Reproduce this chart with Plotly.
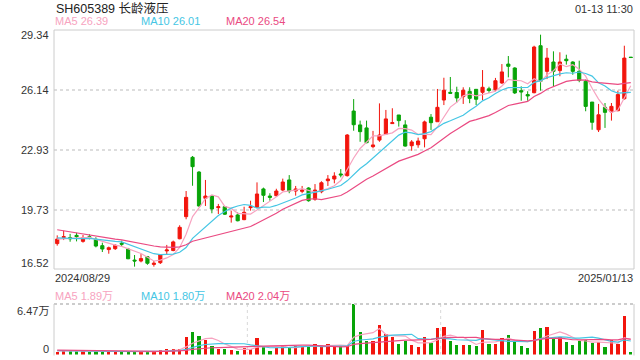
import plotly.graph_objects as go
import pandas as pd

# ---- data ----
opens = [17.93, 18.26, 18.25, 18.37, 18.05, 18.30, 18.16, 17.82, 17.61, 17.66,
         17.95, 17.64, 17.05, 17.00, 17.23, 16.82, 16.91, 17.54, 17.56, 18.19,
         19.37, 22.54, 21.75, 20.35, 20.47, 19.85, 19.90, 19.35, 19.46, 19.21,
         19.85, 19.87, 20.85, 20.47, 20.49, 20.79, 21.33, 20.74, 20.72, 20.90,
         20.30, 20.70, 21.29, 21.38, 21.65, 21.56, 25.01, 24.27, 24.11, 23.11,
         23.46, 23.78, 24.34, 24.80, 24.27, 23.16, 23.21, 23.53, 24.68, 24.44,
         25.60, 26.01, 26.00, 25.78, 26.06, 26.17, 26.01, 26.20, 26.15, 26.51,
         27.52, 27.31, 26.10, 25.89, 25.99, 28.50, 27.13, 27.63, 27.17, 27.78,
         27.63, 27.13, 26.60, 25.49, 24.01, 25.21, 24.96, 25.03, 25.67, 27.89]
highs = [18.37, 18.62, 18.45, 18.51, 18.39, 18.43, 18.27, 17.98, 17.77, 17.89,
         18.09, 17.70, 17.32, 17.37, 17.27, 17.00, 17.37, 17.86, 18.09, 18.91,
         20.74, 22.61, 21.81, 21.33, 20.53, 20.05, 19.94, 19.69, 19.60, 19.90,
         20.22, 21.20, 20.92, 20.62, 20.86, 21.40, 21.59, 21.01, 21.01, 20.94,
         21.11, 21.26, 21.59, 21.74, 21.91, 23.78, 25.65, 24.50, 24.50, 23.95,
         25.42, 25.07, 25.16, 24.80, 24.52, 23.46, 23.59, 24.50, 24.85, 26.19,
         26.79, 26.83, 26.31, 26.28, 26.28, 26.17, 27.20, 26.31, 26.78, 27.52,
         27.95, 27.35, 26.33, 26.07, 28.50, 29.09, 28.38, 28.20, 28.15, 28.02,
         27.67, 27.70, 26.69, 25.49, 25.39, 25.44, 25.44, 26.10, 28.50, 27.89]
lows = [17.82, 18.12, 18.03, 18.05, 17.98, 18.16, 17.73, 17.48, 17.39, 17.59,
        17.77, 17.10, 16.70, 16.93, 16.80, 16.70, 16.84, 17.37, 17.52, 18.16,
        19.23, 21.02, 19.90, 19.94, 19.55, 19.51, 19.46, 19.05, 19.12, 19.18,
        19.69, 19.83, 20.15, 20.22, 20.44, 20.74, 20.62, 20.49, 20.62, 20.17,
        20.22, 20.62, 21.01, 21.15, 21.47, 21.51, 23.96, 23.37, 23.29, 23.02,
        23.37, 23.78, 24.32, 24.18, 23.11, 22.89, 23.05, 23.07, 24.00, 24.44,
        25.33, 25.94, 25.46, 25.39, 25.43, 25.33, 25.60, 25.97, 26.07, 26.46,
        26.81, 25.92, 25.56, 25.56, 25.96, 26.10, 26.72, 26.33, 26.87, 27.49,
        26.95, 26.55, 25.00, 24.01, 23.89, 24.11, 24.50, 25.00, 25.62, 27.87]
closes = [18.17, 18.30, 18.19, 18.30, 18.25, 18.25, 17.80, 17.64, 17.71, 17.84,
          17.90, 17.12, 17.00, 17.13, 16.88, 16.88, 17.34, 17.59, 18.02, 18.80,
          20.40, 22.04, 19.94, 20.47, 19.78, 19.90, 19.50, 19.40, 19.15, 19.60,
          19.90, 20.58, 20.51, 20.40, 20.74, 21.22, 20.74, 20.85, 20.79, 20.22,
          20.79, 21.18, 21.38, 21.54, 21.60, 23.73, 24.28, 23.91, 23.32, 23.20,
          23.73, 24.59, 24.39, 24.50, 23.14, 23.36, 23.41, 24.43, 24.39, 25.21,
          26.12, 25.96, 25.71, 26.12, 25.69, 25.64, 26.28, 26.11, 26.63, 27.10,
          27.40, 25.98, 26.03, 25.82, 28.43, 26.60, 27.84, 27.13, 27.63, 27.70,
          27.13, 26.65, 25.26, 24.41, 24.81, 24.94, 25.26, 25.89, 27.84, 27.87]
volumes = [0.34, 0.40, 0.40, 0.40, 0.40, 0.36, 0.40, 0.36, 0.36, 0.40,
           0.36, 0.40, 0.36, 0.36, 0.36, 0.40, 0.56, 0.69, 0.69, 0.69,
           2.24, 2.93, 2.37, 1.90, 1.08, 0.73, 0.69, 0.56, 0.43, 0.86,
           0.73, 2.11, 0.99, 0.47, 0.86, 1.12, 0.91, 1.04, 1.08, 0.99,
           1.38, 1.16, 1.34, 1.04, 1.04, 1.16, 6.47, 2.89, 1.73, 1.73,
           3.80, 2.63, 2.24, 1.34, 1.77, 1.21, 0.95, 2.24, 1.47, 3.41,
           3.54, 1.73, 1.21, 1.21, 1.21, 1.08, 3.15, 1.34, 1.34, 2.11,
           2.50, 1.73, 1.08, 0.82, 3.02, 3.41, 3.54, 2.24, 2.24, 1.60,
           1.21, 1.73, 1.86, 1.47, 1.60, 0.95, 1.86, 1.34, 4.96, 0.34]
# closes / volumes before the first shown day (only feed the moving averages)
pre_closes = [19.5, 19.4, 19.3, 19.2, 19.2, 19.1, 19.0, 18.9, 18.8, 18.7,
              18.5, 18.4, 18.3, 18.2, 18.1, 18.2, 18.15, 18.1, 18.2]
pre_volumes = [0.70, 0.65, 0.60, 0.70, 0.60, 0.55, 0.60, 0.65, 0.60, 0.55,
               0.60, 0.50, 0.55, 0.60, 0.50, 0.45, 0.50, 0.45, 0.50]

title_text = "SH605389 长龄液压"
time_text = "01-13 11:30"
price_ticks = [29.34, 26.14, 22.93, 19.73, 16.52]
vol_ticks = ["6.47万", "0"]
date_labels = ["2024/08/29", "2025/01/13"]
price_legend = ["MA5 26.39", "MA10 26.01", "MA20 26.54"]
vol_legend = ["MA5 1.89万", "MA10 1.80万", "MA20 2.04万"]

RED = "#f2150d"
GREEN = "#08a408"
C_MA5 = "#f7a3c0"
C_MA10 = "#45c6e4"
C_MA20 = "#ea4a82"
FONT = "Liberation Sans, Arial, Noto Sans CJK SC, sans-serif"

n = len(closes)
x = list(range(n))
allc = pd.Series(pre_closes + closes)
allv = pd.Series(pre_volumes + volumes)
npre = len(pre_closes)
ma = {k: allc.rolling(k).mean().tolist()[npre:] for k in (5, 10, 20)}
vma = {k: allv.rolling(k).mean().tolist()[npre:] for k in (5, 10, 20)}
vcolors = [RED if c >= o else GREEN for o, c in zip(opens, closes)]

W, H = 640, 360
def px(v): return v / W
def py(v): return 1 - v / H

L, R = 54, 634
TOP, BOT = 30, 270
VTOP, VBOT = 304, 354.5

fig = go.Figure()
fig.add_trace(go.Candlestick(
    x=x, open=opens, high=highs, low=lows, close=closes,
    increasing=dict(line=dict(color=RED, width=1), fillcolor=RED),
    decreasing=dict(line=dict(color=GREEN, width=1), fillcolor=GREEN),
    whiskerwidth=0, xaxis="x", yaxis="y", hoverinfo="skip"))
for k, col in ((5, C_MA5), (10, C_MA10), (20, C_MA20)):
    fig.add_trace(go.Scatter(x=x, y=ma[k], mode="lines",
                             line=dict(color=col, width=1.2), xaxis="x", yaxis="y"))
fig.add_trace(go.Bar(x=x, y=volumes, marker=dict(color=vcolors, line=dict(width=0)),
                     width=0.5, xaxis="x2", yaxis="y2"))
for k, col in ((5, C_MA5), (10, C_MA10), (20, C_MA20)):
    fig.add_trace(go.Scatter(x=x, y=vma[k], mode="lines",
                             line=dict(color=col, width=1.2), xaxis="x2", yaxis="y2"))

shapes = []
# price grid (interior levels, dotted)
for v in price_ticks[1:-1]:
    shapes.append(dict(type="line", xref="paper", yref="y", x0=px(L), x1=px(R), y0=v, y1=v,
                       line=dict(color="#dddddd", width=2, dash="dot"), layer="below"))
# price frame
shapes.append(dict(type="rect", xref="paper", yref="paper", x0=px(L), x1=px(R),
                   y0=py(BOT - 1), y1=py(TOP), line=dict(color="#cccccc", width=1)))
# volume frame
shapes.append(dict(type="line", xref="paper", yref="paper", x0=px(L), x1=px(R),
                   y0=py(VTOP), y1=py(VTOP), line=dict(color="#cccccc", width=2, dash="dot")))
for xx in (L, R):
    shapes.append(dict(type="line", xref="paper", yref="paper", x0=px(xx), x1=px(xx),
                       y0=py(VTOP), y1=py(VBOT + 1), line=dict(color="#cccccc", width=1)))
for xx in (L + (R - L) / 3, L + 2 * (R - L) / 3):
    shapes.append(dict(type="line", xref="paper", yref="paper", x0=px(xx), x1=px(xx),
                       y0=py(VTOP), y1=py(VBOT), line=dict(color="#d8d8d8", width=1, dash="dot"),
                       layer="below"))

ann = []
def text(t, xp, yp, anchor="left", size=11, color="#333333"):
    ann.append(dict(text=t, x=px(xp), y=py(yp), xref="paper", yref="paper", showarrow=False,
                    xanchor=anchor, yanchor="middle", font=dict(family=FONT, size=size, color=color)))

text(title_text, 54, 8, size=12.5, color="#222222")
text(time_text, 635, 9, anchor="right", size=11, color="#333333")
for t, xp, col in zip(price_legend, (53, 139, 224), (C_MA5, C_MA10, C_MA20)):
    text(t, xp, 21, color=col)
for t, xp, col in zip(vol_legend, (53, 139, 224), (C_MA5, C_MA10, C_MA20)):
    text(t, xp, 296, color=col)
price_y = [35, 90, 150, 209.5, 263]
for v, yy in zip(price_ticks, price_y):
    text(f"{v:.2f}", 51, yy, anchor="right")
text(vol_ticks[0], 51, 311, anchor="right")
text(vol_ticks[1], 51, 349, anchor="right")
text(date_labels[0], 53, 278)
text(date_labels[1], 635, 278, anchor="right")

fig.update_layout(
    width=W, height=H, margin=dict(l=0, r=0, t=0, b=0),
    paper_bgcolor="white", plot_bgcolor="white", showlegend=False,
    shapes=shapes, annotations=ann, bargap=0,
    xaxis=dict(domain=[px(L), px(R)], range=[-0.5, n - 0.5], visible=False,
               rangeslider=dict(visible=False), fixedrange=True),
    yaxis=dict(domain=[py(BOT), py(TOP)], range=[price_ticks[-1], price_ticks[0]],
               visible=False, fixedrange=True),
    xaxis2=dict(domain=[px(L), px(R)], range=[-0.5, n - 0.5], visible=False,
                anchor="y2", matches="x", fixedrange=True),
    yaxis2=dict(domain=[py(VBOT), py(VTOP)], range=[0, max(volumes)], visible=False,
                anchor="x2", fixedrange=True),
)
fig.write_html("out.html")
